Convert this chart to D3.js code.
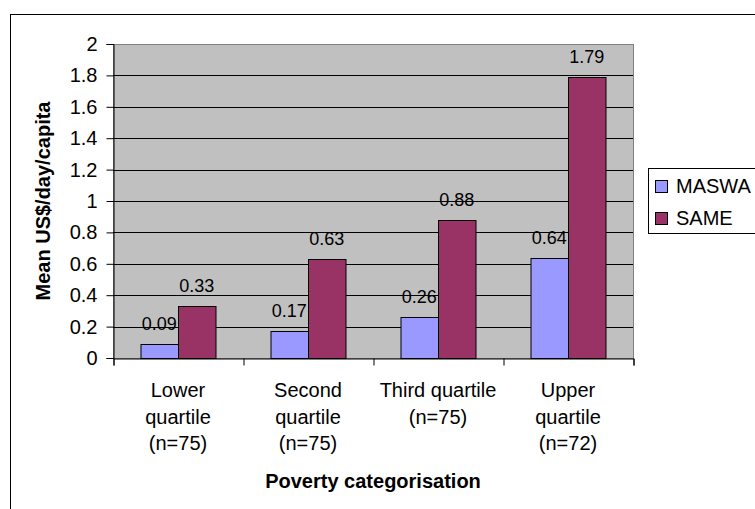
<!DOCTYPE html>
<html>
<head>
<meta charset="utf-8">
<script src="https://cdn.jsdelivr.net/npm/d3@7/dist/d3.min.js"></script>
<style>
  html, body { margin: 0; padding: 0; background: #fff; }
  svg { display: block; font-family: "Liberation Sans", Arial, sans-serif; }
</style>
</head>
<body>
<svg id="chart" width="755" height="509"></svg>
<script>
// Poverty quartiles (multi-line labels) and mean income per series
const categories = [
  ["Lower", "quartile", "(n=75)"],
  ["Second", "quartile", "(n=75)"],
  ["Third quartile", "(n=75)"],
  ["Upper", "quartile", "(n=72)"]
];
const seriesNames = ["MASWA", "SAME"];
const maswaValues = [0.09, 0.17, 0.26, 0.64];
const sameValues = [0.33, 0.63, 0.88, 1.79];
const yTicks = [0, 0.2, 0.4, 0.6, 0.8, 1, 1.2, 1.4, 1.6, 1.8, 2];

const colors = { MASWA: "#9999ff", SAME: "#993366" };
const seriesValues = { MASWA: maswaValues, SAME: sameValues };

const svg = d3.select("#chart");
const plot = { left: 113, right: 633, top: 44, bottom: 358 };

// Outer chart frame
svg.append("rect")
  .attr("x", 10.5).attr("y", 14.5)
  .attr("width", 800).attr("height", 600)
  .attr("fill", "#fff").attr("stroke", "#000").attr("stroke-width", 1);

const catKeys = categories.map((c, i) => i);
const x0 = d3.scaleBand().domain(catKeys).range([plot.left, plot.right]).padding(0);
const groupPad = 27.5;
const x1 = d3.scaleBand().domain(seriesNames).range([groupPad, x0.bandwidth() - groupPad]).padding(0);
const y = d3.scaleLinear().domain([0, 2]).range([plot.bottom, plot.top]);

// Plot area background
svg.append("rect")
  .attr("x", plot.left).attr("y", plot.top)
  .attr("width", plot.right - plot.left).attr("height", plot.bottom - plot.top)
  .attr("fill", "#c0c0c0").attr("stroke", "#808080").attr("stroke-width", 1)
  .attr("shape-rendering", "crispEdges");

// Horizontal gridlines
svg.append("g")
  .selectAll("line")
  .data(yTicks.filter(t => t > 0 && t < 2))
  .join("line")
  .attr("x1", plot.left).attr("x2", plot.right)
  .attr("y1", d => Math.round(y(d)) + 0.5).attr("y2", d => Math.round(y(d)) + 0.5)
  .attr("stroke", "#000").attr("stroke-width", 1);

// Bars
const groups = svg.append("g")
  .selectAll("g")
  .data(catKeys)
  .join("g")
  .attr("transform", i => `translate(${x0(i)},0)`);

groups.selectAll("rect")
  .data(i => seriesNames.map(s => ({ s, v: seriesValues[s][i] })))
  .join("rect")
  .attr("x", d => x1(d.s) + 0.5)
  .attr("y", d => Math.round(y(d.v)) + 0.5)
  .attr("width", x1.bandwidth())
  .attr("height", d => Math.round(y(0)) - Math.round(y(d.v)))
  .attr("fill", d => colors[d.s])
  .attr("stroke", "#000").attr("stroke-width", 1);

// Value labels
groups.selectAll("text")
  .data(i => seriesNames.map(s => ({ s, v: seriesValues[s][i] })))
  .join("text")
  .attr("x", d => x1(d.s) + x1.bandwidth() / 2)
  .attr("y", d => y(d.v) - 14)
  .attr("text-anchor", "middle")
  .attr("font-size", 18)
  .attr("fill", "#000")
  .text(d => d3.format(".2f")(d.v));

// Y axis
const yAxis = d3.axisLeft(y).tickValues(yTicks).tickSize(7).tickPadding(9)
  .tickFormat(d => d3.format("~g")(d));
const yG = svg.append("g")
  .attr("transform", `translate(${plot.left + 0.5},0)`)
  .call(yAxis);
yG.select(".domain").attr("stroke", "#000");
yG.selectAll(".tick line").attr("stroke", "#000");
yG.selectAll("text").attr("font-size", 20).attr("font-family", "Liberation Sans, Arial, sans-serif").attr("fill", "#000");

// X axis
const xAxis = d3.axisBottom(d3.scaleLinear().domain([0, 4]).range([plot.left, plot.right]))
  .tickValues([0, 1, 2, 3, 4]).tickSize(7).tickFormat("");
const xG = svg.append("g")
  .attr("transform", `translate(0.5,${plot.bottom + 0.5})`)
  .call(xAxis);
xG.select(".domain").attr("stroke", "#000");
xG.selectAll(".tick line").attr("stroke", "#000");

// Category labels
const catLabels = svg.append("g")
  .selectAll("text")
  .data(catKeys)
  .join("text")
  .attr("x", i => x0(i) + x0.bandwidth() / 2)
  .attr("y", 397)
  .attr("text-anchor", "middle")
  .attr("font-size", 20)
  .attr("fill", "#000");
catLabels.selectAll("tspan")
  .data(i => categories[i])
  .join("tspan")
  .attr("x", function () { return d3.select(this.parentNode).attr("x"); })
  .attr("dy", (d, j) => j === 0 ? 0 : 26.5)
  .text(d => d);

// Axis titles
svg.append("text")
  .attr("x", (plot.left + plot.right) / 2)
  .attr("y", 488)
  .attr("text-anchor", "middle")
  .attr("font-size", 20).attr("font-weight", "bold")
  .text("Poverty categorisation");

svg.append("text")
  .attr("transform", `translate(50,${(plot.top + plot.bottom) / 2}) rotate(-90)`)
  .attr("text-anchor", "middle")
  .attr("font-size", 20).attr("font-weight", "bold")
  .text("Mean US$/day/capita");

// Legend
const legend = svg.append("g");
legend.append("rect")
  .attr("x", 648.5).attr("y", 168.5)
  .attr("width", 200).attr("height", 65)
  .attr("fill", "#fff").attr("stroke", "#000").attr("stroke-width", 1);
const items = legend.selectAll("g.item")
  .data(seriesNames)
  .join("g")
  .attr("class", "item")
  .attr("transform", (d, i) => `translate(0,${i * 32})`);
items.append("rect")
  .attr("x", 655.5).attr("y", 180.5)
  .attr("width", 12).attr("height", 12)
  .attr("fill", d => colors[d]).attr("stroke", "#000");
items.append("text")
  .attr("x", 676).attr("y", 193)
  .attr("font-size", 20)
  .text(d => d);
</script>
</body>
</html>
